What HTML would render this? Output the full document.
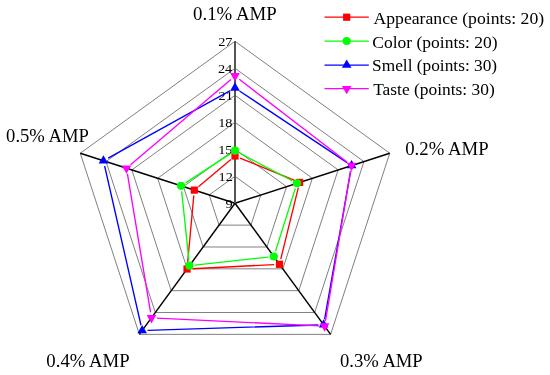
<!DOCTYPE html>
<html><head><meta charset="utf-8"><style>
html,body{margin:0;padding:0;background:#fff;}
svg{display:block;}
text{font-family:"Liberation Serif",serif;fill:#000;}
svg{will-change:transform;}
</style></head><body>
<svg width="550" height="375" viewBox="0 0 550 375">
<rect width="550" height="375" fill="#fff"/>
<polygon points="235.00,176.30 260.79,194.96 250.94,225.14 219.06,225.14 209.21,194.96" fill="none" stroke="#808080" stroke-width="1"/>
<polygon points="235.00,149.30 286.58,186.61 266.88,246.99 203.12,246.99 183.42,186.61" fill="none" stroke="#808080" stroke-width="1"/>
<polygon points="235.00,122.30 312.37,178.27 282.82,268.83 187.18,268.83 157.63,178.27" fill="none" stroke="#808080" stroke-width="1"/>
<polygon points="235.00,95.30 338.16,169.93 298.76,290.67 171.24,290.67 131.84,169.93" fill="none" stroke="#808080" stroke-width="1"/>
<polygon points="235.00,68.30 363.95,161.58 314.69,312.52 155.31,312.52 106.05,161.58" fill="none" stroke="#808080" stroke-width="1"/>
<polygon points="235.00,41.30 389.74,153.24 330.63,334.36 139.37,334.36 80.26,153.24" fill="none" stroke="#808080" stroke-width="1"/>
<line x1="235.0" y1="203.3" x2="389.74" y2="153.24" stroke="#000" stroke-width="1.45"/>
<line x1="235.0" y1="203.3" x2="330.63" y2="334.36" stroke="#000" stroke-width="1.45"/>
<line x1="235.0" y1="203.3" x2="139.37" y2="334.36" stroke="#000" stroke-width="1.45"/>
<line x1="235.0" y1="203.3" x2="80.26" y2="153.24" stroke="#000" stroke-width="1.45"/>
<line x1="235.0" y1="203.3" x2="235.00" y2="41.30" stroke="#555" stroke-width="2"/>
<text transform="translate(225.38,208.00) scale(1.0600,1)" style="font-size:13.5px">9</text>
<text transform="translate(218.49,181.00) scale(1.0600,1)" style="font-size:13.5px">12</text>
<text transform="translate(218.22,154.00) scale(1.0600,1)" style="font-size:13.5px">15</text>
<text transform="translate(218.22,127.00) scale(1.0600,1)" style="font-size:13.5px">18</text>
<text transform="translate(218.49,100.00) scale(1.0600,1)" style="font-size:13.5px">21</text>
<text transform="translate(217.96,73.00) scale(1.0600,1)" style="font-size:13.5px">24</text>
<text transform="translate(218.22,46.00) scale(1.0600,1)" style="font-size:13.5px">27</text>
<path d="M240.00,158.04L294.60,180.36M298.32,187.64L280.79,259.05M274.11,264.57L192.45,268.73M187.55,263.62L193.81,195.51M198.44,186.66L230.86,159.47" fill="none" stroke="#ff0000" stroke-width="1.35"/>
<path d="M239.78,153.21L292.22,180.73M295.37,188.39L275.45,251.35M268.45,257.08L194.84,265.11M188.91,260.33L181.67,191.23M185.63,182.91L230.48,153.65" fill="none" stroke="#00ff00" stroke-width="1.35"/>
<path d="M239.50,90.95L347.11,162.58M350.68,170.89L324.59,319.47M318.25,324.96L147.59,330.32M140.99,325.23L104.64,166.00M108.17,158.12L230.27,90.57" fill="none" stroke="#0000ff" stroke-width="1.35"/>
<path d="M239.28,79.20L347.22,162.31M350.61,170.94L325.50,320.78M319.21,325.85L156.85,318.05M150.57,312.47L127.39,173.52M130.61,164.70L230.89,79.40" fill="none" stroke="#ff00ff" stroke-width="1.35"/>
<rect x="231.40" y="152.40" width="7.2" height="7.2" fill="#ff0000"/>
<rect x="296.00" y="178.80" width="7.2" height="7.2" fill="#ff0000"/>
<rect x="275.91" y="260.70" width="7.2" height="7.2" fill="#ff0000"/>
<rect x="183.46" y="265.40" width="7.2" height="7.2" fill="#ff0000"/>
<rect x="190.70" y="186.53" width="7.2" height="7.2" fill="#ff0000"/>
<circle cx="235.00" cy="150.70" r="4.1" fill="#00ff00"/>
<circle cx="297.00" cy="183.24" r="4.1" fill="#00ff00"/>
<circle cx="273.82" cy="256.50" r="4.1" fill="#00ff00"/>
<circle cx="189.47" cy="265.70" r="4.1" fill="#00ff00"/>
<circle cx="181.11" cy="185.86" r="4.1" fill="#00ff00"/>
<polygon points="235.00,82.36 239.80,90.76 230.20,90.76" fill="#0000ff"/>
<polygon points="351.61,159.97 356.41,168.37 346.81,168.37" fill="#0000ff"/>
<polygon points="323.65,319.19 328.45,327.59 318.85,327.59" fill="#0000ff"/>
<polygon points="142.19,324.89 146.99,333.29 137.39,333.29" fill="#0000ff"/>
<polygon points="103.44,155.14 108.24,163.54 98.64,163.54" fill="#0000ff"/>
<polygon points="235.00,81.50 239.80,73.10 230.20,73.10" fill="#ff00ff"/>
<polygon points="351.50,171.21 356.30,162.81 346.70,162.81" fill="#ff00ff"/>
<polygon points="324.61,331.70 329.41,323.30 319.81,323.30" fill="#ff00ff"/>
<polygon points="151.46,323.39 156.26,314.99 146.66,314.99" fill="#ff00ff"/>
<polygon points="126.50,173.80 131.30,165.40 121.70,165.40" fill="#ff00ff"/>
<text transform="translate(193.02,19.60) scale(1.0459,1)" style="font-size:18px">0.1% AMP</text>
<text transform="translate(405.22,155.00) scale(1.0420,1)" style="font-size:18px">0.2% AMP</text>
<text transform="translate(340.02,366.60) scale(1.0344,1)" style="font-size:18px">0.3% AMP</text>
<text transform="translate(46.32,366.60) scale(1.0433,1)" style="font-size:18px">0.4% AMP</text>
<text transform="translate(6.12,141.60) scale(1.0344,1)" style="font-size:18px">0.5% AMP</text>
<line x1="324.5" y1="17.2" x2="368.8" y2="17.2" stroke="#ff0000" stroke-width="1.25"/>
<rect x="343.10" y="13.60" width="7.2" height="7.2" fill="#ff0000"/>
<text transform="translate(373.53,23.50) scale(1.0707,1)" style="font-size:16.5px">Appearance (points: 20)</text>
<line x1="324.5" y1="41.0" x2="368.8" y2="41.0" stroke="#00ff00" stroke-width="1.25"/>
<circle cx="346.70" cy="41.00" r="4.1" fill="#00ff00"/>
<text transform="translate(372.30,47.60) scale(1.0604,1)" style="font-size:16.5px">Color (points: 20)</text>
<line x1="324.5" y1="65.0" x2="368.8" y2="65.0" stroke="#0000ff" stroke-width="1.25"/>
<polygon points="346.70,59.40 351.50,67.80 341.90,67.80" fill="#0000ff"/>
<text transform="translate(372.05,71.00) scale(1.0502,1)" style="font-size:16.5px">Smell (points: 30)</text>
<line x1="324.5" y1="88.7" x2="368.8" y2="88.7" stroke="#ff00ff" stroke-width="1.25"/>
<polygon points="346.70,94.30 351.50,85.90 341.90,85.90" fill="#ff00ff"/>
<text transform="translate(373.19,94.80) scale(1.0551,1)" style="font-size:16.5px">Taste (points: 30)</text>
</svg>
</body></html>
